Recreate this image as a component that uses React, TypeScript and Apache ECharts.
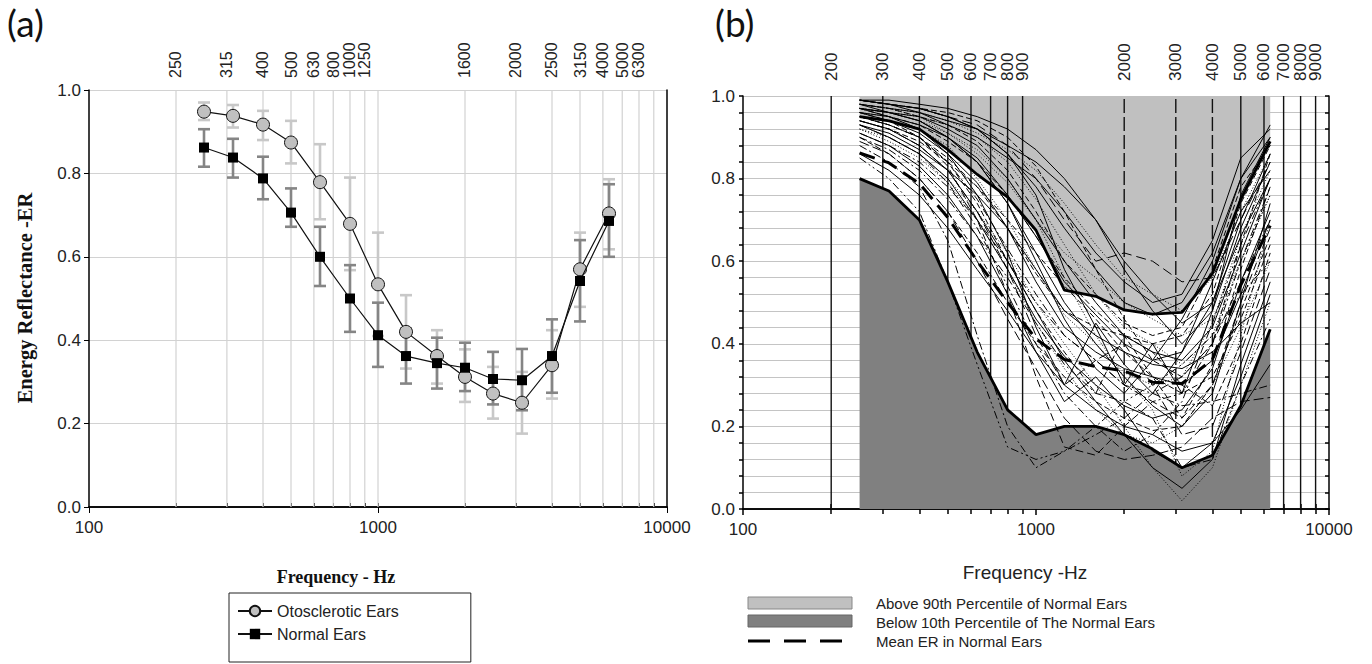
import React, { useEffect, useRef } from "react";
import * as echarts from "echarts";

// ---------- DATA ----------
const freqs = [250, 315, 400, 500, 630, 800, 1000, 1250, 1600, 2000, 2500, 3150, 4000, 5000, 6300];

// Panel (a): mean energy reflectance and error-bar ends
const otoMean = [0.948, 0.938, 0.917, 0.874, 0.779, 0.679, 0.534, 0.42, 0.362, 0.312, 0.272, 0.25, 0.34, 0.57, 0.704];
const otoHigh = [0.97, 0.964, 0.95, 0.926, 0.87, 0.79, 0.658, 0.508, 0.424, 0.378, 0.336, 0.324, 0.424, 0.658, 0.786];
const otoLow = [0.928, 0.91, 0.88, 0.824, 0.69, 0.568, 0.41, 0.332, 0.296, 0.252, 0.212, 0.176, 0.26, 0.48, 0.618];
const normMean = [0.862, 0.838, 0.788, 0.706, 0.6, 0.5, 0.412, 0.362, 0.345, 0.334, 0.307, 0.304, 0.362, 0.542, 0.686];
const normHigh = [0.906, 0.883, 0.84, 0.764, 0.672, 0.58, 0.49, 0.428, 0.406, 0.394, 0.372, 0.379, 0.45, 0.64, 0.774];
const normLow = [0.816, 0.79, 0.738, 0.672, 0.53, 0.42, 0.336, 0.296, 0.284, 0.278, 0.246, 0.232, 0.274, 0.445, 0.6];

const gridFreqsA = [200, 300, 400, 500, 600, 700, 800, 900, 1000, 2000, 3000, 4000, 5000, 6000, 7000, 8000, 9000];
const topTickFreqsA = [200, 300, 400, 500, 600, 700, 800, 900, 1000, 2000, 3000, 4000, 5000, 6000, 7000, 8000, 9000];
const topLabelFreqsA = [200, 300, 400, 500, 600, 700, 800, 900, 2000, 3000, 4000, 5000, 6000, 7000, 8000];
const topLabelsA = ["250", "315", "400", "500", "630", "800", "1000", "1250", "1600", "2000", "2500", "3150", "4000", "5000", "6300"];

// Panel (b)
const p10Normal = [0.8, 0.77, 0.7, 0.55, 0.38, 0.24, 0.18, 0.2, 0.2, 0.18, 0.145, 0.1, 0.13, 0.25, 0.435];
const p90Normal = [0.95, 0.94, 0.92, 0.87, 0.81, 0.755, 0.675, 0.53, 0.515, 0.482, 0.472, 0.476, 0.57, 0.75, 0.89];
const meanNormal = [0.862, 0.838, 0.788, 0.706, 0.6, 0.5, 0.412, 0.362, 0.345, 0.334, 0.307, 0.304, 0.362, 0.542, 0.686];

const earCurves = [
  [0.99, 0.98, 0.97, 0.95, 0.92, 0.86, 0.78, 0.68, 0.58, 0.5, 0.47, 0.5, 0.62, 0.8, 0.9],
  [0.98, 0.97, 0.95, 0.93, 0.89, 0.82, 0.72, 0.6, 0.52, 0.45, 0.42, 0.44, 0.58, 0.78, 0.88],
  [0.97, 0.96, 0.94, 0.9, 0.85, 0.76, 0.66, 0.55, 0.47, 0.4, 0.36, 0.38, 0.5, 0.7, 0.86],
  [0.96, 0.95, 0.92, 0.88, 0.8, 0.7, 0.58, 0.47, 0.4, 0.33, 0.3, 0.32, 0.45, 0.66, 0.82],
  [0.99, 0.98, 0.96, 0.93, 0.9, 0.85, 0.8, 0.72, 0.62, 0.55, 0.5, 0.52, 0.65, 0.85, 0.92],
  [0.95, 0.93, 0.9, 0.84, 0.75, 0.63, 0.52, 0.42, 0.36, 0.3, 0.26, 0.28, 0.4, 0.6, 0.78],
  [0.93, 0.9, 0.86, 0.8, 0.7, 0.58, 0.46, 0.37, 0.3, 0.25, 0.22, 0.24, 0.34, 0.55, 0.72],
  [0.9, 0.86, 0.8, 0.72, 0.62, 0.5, 0.4, 0.32, 0.26, 0.22, 0.19, 0.2, 0.3, 0.48, 0.66],
  [0.97, 0.96, 0.95, 0.92, 0.88, 0.8, 0.7, 0.6, 0.5, 0.42, 0.38, 0.36, 0.44, 0.62, 0.8],
  [0.98, 0.97, 0.96, 0.94, 0.91, 0.87, 0.82, 0.74, 0.64, 0.56, 0.52, 0.48, 0.56, 0.72, 0.86],
  [0.88, 0.84, 0.78, 0.65, 0.42, 0.2, 0.1, 0.14, 0.18, 0.22, 0.28, 0.32, 0.4, 0.55, 0.7],
  [0.85, 0.8, 0.72, 0.55, 0.35, 0.15, 0.12, 0.14, 0.2, 0.26, 0.3, 0.35, 0.42, 0.52, 0.6],
  [0.99, 0.98, 0.97, 0.95, 0.93, 0.88, 0.8, 0.7, 0.6, 0.62, 0.6, 0.55, 0.56, 0.7, 0.84],
  [0.94, 0.92, 0.88, 0.82, 0.72, 0.6, 0.48, 0.36, 0.26, 0.18, 0.1, 0.05, 0.12, 0.35, 0.55],
  [0.92, 0.9, 0.86, 0.8, 0.72, 0.62, 0.5, 0.4, 0.3, 0.2, 0.1, 0.02, 0.1, 0.3, 0.5],
  [0.96, 0.94, 0.91, 0.86, 0.79, 0.68, 0.55, 0.44, 0.38, 0.34, 0.32, 0.3, 0.36, 0.52, 0.7],
  [0.97, 0.95, 0.93, 0.89, 0.84, 0.76, 0.66, 0.56, 0.48, 0.42, 0.4, 0.42, 0.52, 0.74, 0.88],
  [0.93, 0.91, 0.87, 0.82, 0.76, 0.68, 0.58, 0.48, 0.42, 0.38, 0.35, 0.34, 0.38, 0.45, 0.5],
  [0.91, 0.88, 0.84, 0.78, 0.7, 0.6, 0.5, 0.42, 0.36, 0.3, 0.28, 0.25, 0.26, 0.28, 0.3],
  [0.89, 0.86, 0.8, 0.72, 0.6, 0.46, 0.34, 0.22, 0.14, 0.12, 0.13, 0.15, 0.22, 0.26, 0.27],
  [0.98, 0.97, 0.96, 0.94, 0.92, 0.88, 0.84, 0.78, 0.7, 0.6, 0.52, 0.45, 0.5, 0.66, 0.8],
  [0.95, 0.93, 0.9, 0.85, 0.78, 0.68, 0.57, 0.48, 0.44, 0.42, 0.38, 0.3, 0.25, 0.4, 0.62],
  [0.96, 0.95, 0.93, 0.9, 0.84, 0.74, 0.62, 0.5, 0.4, 0.32, 0.25, 0.2, 0.28, 0.5, 0.74],
  [0.92, 0.89, 0.85, 0.79, 0.7, 0.58, 0.45, 0.34, 0.24, 0.18, 0.16, 0.2, 0.3, 0.44, 0.6],
  [0.99, 0.99, 0.98, 0.97, 0.95, 0.92, 0.87, 0.8, 0.7, 0.58, 0.48, 0.4, 0.48, 0.68, 0.84],
  [0.97, 0.96, 0.95, 0.93, 0.9, 0.84, 0.75, 0.64, 0.52, 0.44, 0.4, 0.35, 0.42, 0.6, 0.76],
  [0.94, 0.92, 0.89, 0.84, 0.78, 0.7, 0.62, 0.54, 0.46, 0.38, 0.32, 0.28, 0.32, 0.46, 0.64],
  [0.9, 0.87, 0.82, 0.75, 0.66, 0.56, 0.45, 0.35, 0.28, 0.26, 0.22, 0.1, 0.12, 0.3, 0.46],
  [0.86, 0.82, 0.76, 0.68, 0.58, 0.48, 0.38, 0.3, 0.24, 0.2, 0.18, 0.14, 0.16, 0.24, 0.35],
  [0.98, 0.97, 0.95, 0.91, 0.86, 0.79, 0.7, 0.62, 0.56, 0.5, 0.46, 0.42, 0.46, 0.6, 0.76],
  [0.95, 0.93, 0.9, 0.83, 0.7, 0.52, 0.32, 0.15, 0.13, 0.2, 0.26, 0.22, 0.3, 0.5, 0.68],
  [0.97, 0.95, 0.92, 0.86, 0.76, 0.62, 0.44, 0.3, 0.45, 0.35, 0.28, 0.38, 0.55, 0.72, 0.82],
  [0.96, 0.94, 0.9, 0.84, 0.74, 0.6, 0.48, 0.38, 0.28, 0.42, 0.32, 0.22, 0.35, 0.58, 0.78],
  [0.99, 0.98, 0.97, 0.95, 0.92, 0.86, 0.76, 0.58, 0.44, 0.3, 0.4, 0.28, 0.48, 0.76, 0.9],
  [0.93, 0.9, 0.86, 0.79, 0.68, 0.54, 0.4, 0.28, 0.2, 0.14, 0.18, 0.26, 0.45, 0.64, 0.8],
  [0.98, 0.96, 0.94, 0.9, 0.84, 0.74, 0.6, 0.46, 0.34, 0.28, 0.36, 0.46, 0.6, 0.8, 0.93],
  [0.94, 0.92, 0.88, 0.82, 0.72, 0.58, 0.42, 0.3, 0.36, 0.4, 0.3, 0.18, 0.2, 0.38, 0.58],
  [0.97, 0.96, 0.94, 0.91, 0.87, 0.8, 0.7, 0.56, 0.42, 0.32, 0.24, 0.08, 0.14, 0.42, 0.7],
  [0.91, 0.88, 0.83, 0.76, 0.66, 0.52, 0.38, 0.26, 0.32, 0.24, 0.14, 0.1, 0.16, 0.32, 0.52],
  [0.99, 0.98, 0.97, 0.96, 0.94, 0.9, 0.83, 0.72, 0.58, 0.46, 0.36, 0.32, 0.4, 0.64, 0.86],
];
const earStyles: any[] = [
  "solid", [6, 3], "solid", [1, 2], "solid", [8, 3, 2, 3], "solid", [6, 3], "solid", [1, 2],
  [8, 3, 2, 3], [8, 3, 2, 3, 2, 3], [10, 5], "solid", [1, 2], "solid", [6, 3], "solid", [8, 3, 2, 3], [10, 4],
  "solid", [6, 3], "solid", [1, 2], "solid", [1, 2], [6, 3], [8, 3, 2, 3], "solid", [1, 2],
  [8, 4], "solid", [6, 3], "solid", [8, 3, 2, 3], "solid", [10, 4], [1, 2], "solid", [6, 3],
];

const vLinesSolidB = [200, 300, 400, 500, 600, 700, 800, 900, 5000, 6000, 7000, 8000, 9000];
const vLinesDashedB = [2000, 3000, 4000];
// top labels of panel (b): axis labels for the first group, the tightly packed 8000 placed via the axis scale
const topLabelFreqsB1 = [200, 300, 400, 500, 600, 700, 800, 900, 2000, 3000, 4000, 5000, 6000, 7000, 9000];
const extraTopLabelFreqB = 8000;
const topLabelFreqsB = [200, 300, 400, 500, 600, 700, 800, 900, 2000, 3000, 4000, 5000, 6000, 7000, 8000, 9000];
const topLabelsB = ["200", "300", "400", "500", "600", "700", "800", "900", "2000", "3000", "4000", "5000", "6000", "7000", "8000", "9000"];
const topTickFreqsB = [200, 300, 400, 500, 600, 700, 800, 900, 1000, 2000, 3000, 4000, 5000, 6000, 7000, 8000, 9000];

// ---------- LAYOUT ----------
const A = { left: 89, right: 667, top: 90, bottom: 507 };
const B = { left: 743, right: 1329, top: 96, bottom: 509 };
const SANS = "'Liberation Sans', Arial, sans-serif";
const SERIF = "'Liberation Serif', 'Times New Roman', serif";
const TOP_MARGIN_B = 15;

const lg = (f: number) => Math.log10(f);

function labelLookup(freqList: number[], labels: string[]) {
  const logs = freqList.map(lg);
  return (v: number) => {
    const i = logs.findIndex((p) => Math.abs(p - v) < 1e-4);
    return i >= 0 ? labels[i] : "";
  };
}

function errorBars(low: number[], high: number[], color: string, z: number) {
  return {
    type: "custom",
    xAxisIndex: 0,
    yAxisIndex: 0,
    z,
    silent: true,
    data: freqs.map((f, i) => [f, low[i], high[i]]),
    encode: { x: 0, y: [1, 2] },
    renderItem: (_p: any, api: any) => {
      const x = api.value(0);
      const lo = api.coord([x, api.value(1)]);
      const hi = api.coord([x, api.value(2)]);
      const hw = 6;
      const st = { stroke: color, lineWidth: 2.6 };
      return {
        type: "group",
        children: [
          { type: "line", shape: { x1: lo[0], y1: lo[1], x2: hi[0], y2: hi[1] }, style: st },
          { type: "line", shape: { x1: lo[0] - hw, y1: lo[1], x2: lo[0] + hw, y2: lo[1] }, style: st },
          { type: "line", shape: { x1: hi[0] - hw, y1: hi[1], x2: hi[0] + hw, y2: hi[1] }, style: st },
        ],
      };
    },
  };
}

function vLines(list: number[], xi: number, yi: number, style: any, z: number) {
  return {
    type: "custom",
    xAxisIndex: xi,
    yAxisIndex: yi,
    z,
    silent: true,
    data: list.map((f) => [f, 0, 1]),
    encode: { x: 0, y: [1, 2] },
    renderItem: (_p: any, api: any) => {
      const f = api.value(0);
      const a = api.coord([f, 0]);
      const b = api.coord([f, 1]);
      return { type: "line", shape: { x1: a[0], y1: a[1], x2: b[0], y2: b[1] }, style };
    },
  };
}

export default function App() {
  const ref = useRef<HTMLDivElement>(null);
  useEffect(() => {
    if (!ref.current) return;
    const chart = echarts.init(ref.current, null, { renderer: "svg" });

    const axisLine = { show: true, lineStyle: { color: "#000", width: 1.5 } };
    const labelSans = { fontFamily: SANS, fontSize: 17, color: "#222" };

    const graphics: any[] = [
      { type: "text", left: 7, top: 4, style: { text: "(a)", fontFamily: "Lato, sans-serif", fontSize: 37, fill: "#111" } },
      { type: "text", left: 715, top: 4, style: { text: "(b)", fontFamily: "Lato, sans-serif", fontSize: 37, fill: "#111" } },
      {
        type: "text", x: 25, y: 298, rotation: Math.PI / 2,
        style: { text: "Energy Reflectance -ER", fontFamily: SERIF, fontWeight: "bold", fontSize: 20.5, fill: "#111", align: "center", verticalAlign: "middle" },
      },
      {
        type: "text", x: 336, y: 577,
        style: { text: "Frequency - Hz", fontFamily: SERIF, fontWeight: "bold", fontSize: 18, fill: "#111", align: "center", verticalAlign: "middle" },
      },
      {
        type: "text", x: 1025, y: 572,
        style: { text: "Frequency -Hz", fontFamily: SANS, fontSize: 19, fill: "#222", align: "center", verticalAlign: "middle" },
      },
      { type: "rect", shape: { x: 748, y: 597, width: 104, height: 12 }, style: { fill: "#c0c0c0", stroke: "#888", lineWidth: 1 } },
      { type: "rect", shape: { x: 748, y: 615, width: 104, height: 12 }, style: { fill: "#808080", stroke: "#666", lineWidth: 1 } },
      { type: "line", shape: { x1: 748, y1: 641, x2: 845, y2: 641 }, style: { stroke: "#000", lineWidth: 3, lineDash: [22, 14] } },
      { type: "text", x: 876, y: 603, style: { text: "Above 90th Percentile of Normal Ears", fontFamily: SANS, fontSize: 15, fill: "#222", verticalAlign: "middle" } },
      { type: "text", x: 876, y: 622, style: { text: "Below 10th Percentile of The Normal Ears", fontFamily: SANS, fontSize: 15, fill: "#222", verticalAlign: "middle" } },
      { type: "text", x: 876, y: 641, style: { text: "Mean ER in Normal Ears", fontFamily: SANS, fontSize: 15, fill: "#222", verticalAlign: "middle" } },
    ];

    const option: any = {
      animation: false,
      backgroundColor: "#fff",
      grid: [
        { left: A.left, top: A.top, width: A.right - A.left, height: A.bottom - A.top },
        { left: B.left, top: B.top, width: B.right - B.left, height: B.bottom - B.top },
      ],
      xAxis: [
        {
          gridIndex: 0, type: "log", logBase: 10, min: 100, max: 10000, position: "bottom",
          axisLine, axisTick: { show: true, length: 6, lineStyle: { color: "#000" } },
          axisLabel: { ...labelSans, margin: 12, formatter: (v: number) => String(Math.round(v)) },
          splitLine: { show: false }, minorTick: { show: false },
        },
        {
          gridIndex: 0, type: "value", min: 2, max: 4, position: "top",
          axisLine,
          axisTick: { show: true, length: 4, customValues: topTickFreqsA.map(lg), lineStyle: { color: "#000" } },
          axisLabel: {
            show: true, rotate: 90, margin: 12, fontFamily: SANS, fontSize: 16, lineHeight: 12, color: "#222",
            hideOverlap: false, showMinLabel: true, showMaxLabel: true,
            customValues: topLabelFreqsA.map(lg), formatter: labelLookup(topLabelFreqsA, topLabelsA),
          },
          splitLine: { show: false },
        },
        {
          gridIndex: 1, type: "log", logBase: 10, min: 100, max: 10000, position: "bottom",
          axisLine, axisTick: { show: true, length: 6, lineStyle: { color: "#000", width: 1.5 } },
          axisLabel: { ...labelSans, margin: 12, formatter: (v: number) => String(Math.round(v)) },
          splitLine: { show: false },
        },
        {
          gridIndex: 1, type: "value", min: 2, max: 4, position: "top",
          axisLine,
          axisTick: { show: true, length: 5, customValues: topTickFreqsB.map(lg), lineStyle: { color: "#000", width: 1.5 } },
          axisLabel: {
            show: true, rotate: 90, margin: TOP_MARGIN_B, fontFamily: SANS, fontSize: 17, lineHeight: 12, color: "#222",
            hideOverlap: false, showMinLabel: true, showMaxLabel: true,
            customValues: topLabelFreqsB1.map(lg), formatter: labelLookup(topLabelFreqsB, topLabelsB),
          },
          splitLine: { show: false },
        },
        {
          gridIndex: 1, type: "value", min: 2, max: 4, position: "bottom",
          axisLine: { show: false },
          axisTick: { show: true, length: 5, customValues: topLabelFreqsB.map(lg), lineStyle: { color: "#000", width: 1.5 } },
          axisLabel: { show: false },
          splitLine: { show: false },
        },
      ],
      yAxis: [
        {
          gridIndex: 0, type: "value", min: 0, max: 1, interval: 0.2, position: "left",
          axisLine, axisTick: { show: true, length: 5, lineStyle: { color: "#000" } },
          axisLabel: { ...labelSans, margin: 8, formatter: (v: number) => v.toFixed(1) },
          splitLine: { show: true, lineStyle: { color: "#d2d2d2", width: 1.2 } },
        },
        {
          gridIndex: 0, type: "value", min: 0, max: 1, position: "right",
          axisLine, axisTick: { show: false }, axisLabel: { show: false }, splitLine: { show: false },
        },
        {
          gridIndex: 1, type: "value", min: 0, max: 1, interval: 0.04, position: "left",
          axisLine, axisTick: { show: true, length: 4, lineStyle: { color: "#000", width: 1.5 } },
          axisLabel: {
            ...labelSans, margin: 8,
            formatter: (v: number) => (Math.round(v * 100) % 20 === 0 ? v.toFixed(1) : ""),
          },
          splitLine: { show: true, lineStyle: { color: "#c4c4c4", width: 1.2 } },
        },
        {
          gridIndex: 1, type: "value", min: 0, max: 1, interval: 0.04, position: "right",
          axisLine, axisTick: { show: true, inside: true, length: 4, lineStyle: { color: "#000", width: 1.5 } },
          axisLabel: { show: false }, splitLine: { show: false },
        },
      ],
      legend: {
        data: ["Otosclerotic Ears", "Normal Ears"],
        orient: "vertical",
        left: 229, top: 593,
        itemWidth: 34, itemHeight: 13, itemGap: 7,
        padding: [10, 72, 20, 8],
        borderColor: "#222", borderWidth: 1,
        textStyle: { fontFamily: SANS, fontSize: 16, color: "#222" },
      },
      series: [
        // ---- panel (a)
        vLines(gridFreqsA, 0, 0, { stroke: "#d2d2d2", lineWidth: 1.2 }, 1),
        errorBars(otoLow, otoHigh, "#c8c8c8", 3),
        errorBars(normLow, normHigh, "#858585", 4),
        {
          name: "Otosclerotic Ears", type: "line", xAxisIndex: 0, yAxisIndex: 0, z: 5,
          data: freqs.map((f, i) => [f, otoMean[i]]),
          symbol: "circle", symbolSize: 13,
          itemStyle: { color: "#c0c0c0", borderColor: "#111", borderWidth: 1 },
          lineStyle: { color: "#111", width: 1.2 },
        },
        {
          name: "Normal Ears", type: "line", xAxisIndex: 0, yAxisIndex: 0, z: 6,
          data: freqs.map((f, i) => [f, normMean[i]]),
          symbol: "rect", symbolSize: 10,
          itemStyle: { color: "#000", borderColor: "#000", borderWidth: 0 },
          lineStyle: { color: "#111", width: 1.2 },
        },
        // ---- panel (b)
        {
          type: "line", xAxisIndex: 2, yAxisIndex: 2, z: 2, silent: true,
          data: freqs.map((f, i) => [f, p90Normal[i]]),
          symbol: "none", lineStyle: { width: 0 },
          areaStyle: { origin: "end", color: "#c0c0c0", opacity: 1 },
        },
        vLines(vLinesSolidB, 2, 2, { stroke: "#111", lineWidth: 1.4 }, 3),
        vLines(vLinesDashedB, 2, 2, { stroke: "#111", lineWidth: 1.4, lineDash: [14, 4] }, 3),
        {
          type: "line", xAxisIndex: 2, yAxisIndex: 2, z: 4, silent: true,
          data: freqs.map((f, i) => [f, p10Normal[i]]),
          symbol: "none", lineStyle: { width: 0 },
          areaStyle: { origin: "start", color: "#808080", opacity: 1 },
        },
        ...earCurves.map((vals, k) => ({
          type: "line", xAxisIndex: 2, yAxisIndex: 2, z: 5, silent: true,
          data: freqs.map((f, i) => [f, vals[i]]),
          symbol: "none",
          lineStyle: { color: "#000", width: 1, type: earStyles[k % earStyles.length] },
        })),
        {
          type: "line", xAxisIndex: 2, yAxisIndex: 2, z: 6, silent: true,
          data: freqs.map((f, i) => [f, p90Normal[i]]),
          symbol: "none", lineStyle: { color: "#000", width: 2.8 },
        },
        {
          type: "line", xAxisIndex: 2, yAxisIndex: 2, z: 6, silent: true,
          data: freqs.map((f, i) => [f, p10Normal[i]]),
          symbol: "none", lineStyle: { color: "#000", width: 2.8 },
        },
        {
          type: "line", xAxisIndex: 2, yAxisIndex: 2, z: 6, silent: true,
          data: freqs.map((f, i) => [f, meanNormal[i]]),
          symbol: "none", lineStyle: { color: "#000", width: 3, type: [16, 8] },
        },
      ],
      graphic: graphics,
    };

    chart.setOption(option);

    // place the crowded 8000 label of panel (b) through the axis' own scale
    const px = chart.convertToPixel({ xAxisIndex: 2 }, extraTopLabelFreqB) as any;
    const xPix = Array.isArray(px) ? px[0] : px;
    if (typeof xPix === "number" && isFinite(xPix)) {
      chart.setOption({
        graphic: [
          ...graphics,
          {
            type: "text", x: xPix, y: B.top - TOP_MARGIN_B, rotation: Math.PI / 2,
            style: {
              text: labelLookup(topLabelFreqsB, topLabelsB)(lg(extraTopLabelFreqB)),
              fontFamily: SANS, fontSize: 17, fill: "#222", align: "left", verticalAlign: "middle",
            },
          },
        ],
      });
    }
    return () => chart.dispose();
  }, []);

  return <div ref={ref} style={{ position: "fixed", left: 0, top: 0, width: 1372, height: 664, background: "#fff" }} />;
}
